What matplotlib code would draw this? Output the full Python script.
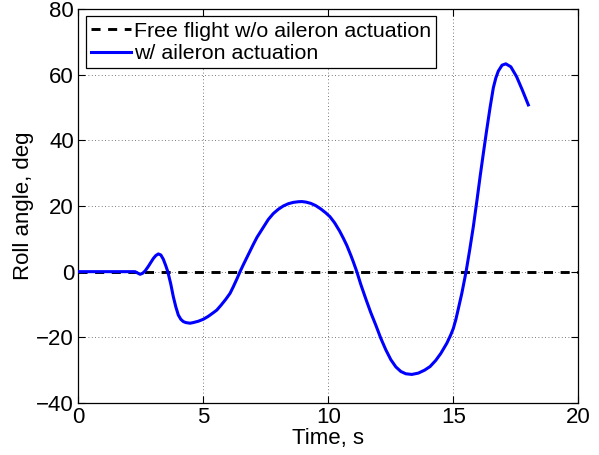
import numpy as np
import matplotlib.pyplot as plt

# Roll angle history
t_free = [0, 20]
roll_free = [0, 0]

t_ail = [0, 2.27, 2.37, 2.47, 2.57, 2.67, 2.8, 2.9, 3.0, 3.1, 3.2, 3.3, 3.4,
         3.5, 3.58, 3.7, 3.8, 3.9, 4.0, 4.1, 4.2, 4.3, 4.47, 4.6, 4.8, 5.0,
         5.2, 5.4, 5.54, 5.7, 5.9, 6.07, 6.2, 6.35, 6.47, 6.6, 6.8, 7.0,
         7.15, 7.4, 7.6, 7.8, 8.0, 8.2, 8.4, 8.6, 8.8, 8.94, 9.1, 9.3, 9.5,
         9.7, 9.9, 10.07, 10.25, 10.45, 10.6, 10.74, 10.9, 11.0, 11.14,
         11.3, 11.5, 11.7, 11.9, 12.1, 12.3, 12.5, 12.7, 12.9, 13.1, 13.34,
         13.6, 13.85, 14.07, 14.3, 14.5, 14.74, 14.9, 15.0, 15.1, 15.2,
         15.34, 15.51, 15.65, 15.8, 15.95, 16.07, 16.2, 16.33, 16.47, 16.6,
         16.7, 16.8, 16.95, 17.1, 17.3, 17.53, 17.75, 18.0]
roll_ail = [0, 0, -0.4, -0.8, -0.5, 0.2, 1.6, 2.8, 4.0, 4.9, 5.4, 5.1, 3.8,
            1.8, 0, -3.8, -7.6, -10.7, -13.2, -14.5, -15.2, -15.5, -15.7,
            -15.5, -15.1, -14.5, -13.6, -12.5, -11.7, -10.3, -8.4, -6.6,
            -4.6, -2.1, 0, 2.1, 5.2, 8.3, 10.5, 13.5, 15.9, 17.7, 19.0, 20.0,
            20.7, 21.1, 21.3, 21.35, 21.2, 20.8, 20.1, 19.1, 17.9, 16.7,
            14.9, 12.4, 10.2, 8.0, 5.0, 3.0, 0, -3.9, -8.3, -12.5, -16.3,
            -20.3, -23.8, -26.8, -29.0, -30.4, -31.1, -31.3, -30.9, -30.0,
            -28.9, -27.0, -24.9, -21.8, -19.2, -17.3, -14.6, -11.3, -6.6, 0,
            6.4, 13.7, 22.0, 28.9, 36.0, 42.9, 50.0, 56.0, 59.0, 61.1, 62.9,
            63.3, 62.4, 59.4, 55.5, 50.8]

plt.rcParams['font.family'] = ['Liberation Sans', 'DejaVu Sans']
plt.rcParams['font.size'] = 16
plt.rcParams['axes.unicode_minus'] = True

fig = plt.figure(figsize=(5.99, 4.55), dpi=100)
ax = fig.add_axes([0.1307, 0.1143, 0.8348, 0.8659])

ax.plot(t_free, roll_free, color='black', lw=2.1, ls=(0, (3.1, 2.6)),
        label='Free flight w/o aileron actuation', zorder=3)
ax.plot(t_ail, roll_ail, color='blue', lw=2.2,
        label='w/ aileron actuation', zorder=4)

ax.set_xlim(0, 20)
ax.set_ylim(-40, 80)
ax.set_xticks([0, 5, 10, 15, 20])
ax.set_yticks([-40, -20, 0, 20, 40, 60, 80])
ax.tick_params(direction='in', top=True, right=True, length=5, width=0.8,
               pad=3, labelsize=16)
ax.grid(True, ls=(0, (1, 3)), lw=0.6, color='0.3')
for s in ax.spines.values():
    s.set_linewidth(0.9)

ax.set_xlabel('Time, s', labelpad=0)
ax.set_ylabel('Roll angle, deg', labelpad=2)

leg = ax.legend(loc='upper left', fontsize=15.4, handlelength=1.85,
                handletextpad=0.15, labelspacing=0.15, borderpad=0.25,
                borderaxespad=0.35, fancybox=False, framealpha=1,
                edgecolor='black')
leg.get_frame().set_linewidth(0.9)

fig.savefig('out.png', dpi=100)
